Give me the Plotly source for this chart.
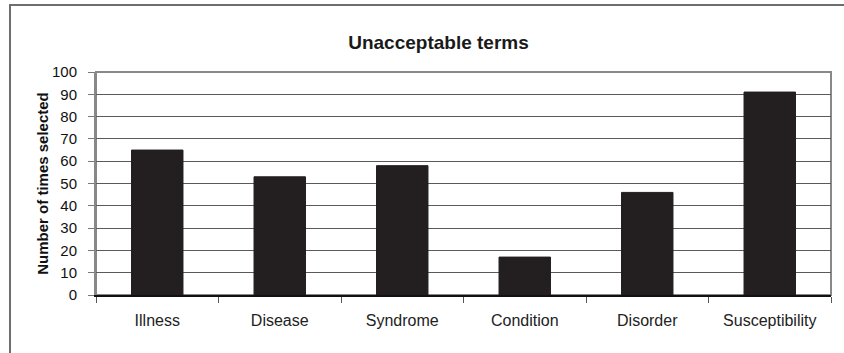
import plotly.graph_objects as go

categories = ["Illness", "Disease", "Syndrome", "Condition", "Disorder", "Susceptibility"]
values = [65, 53, 58, 17, 46, 91]
y_ticks = [0, 10, 20, 30, 40, 50, 60, 70, 80, 90, 100]

W, H = 844, 353
L, R, T, B = 96, 13, 72, 58
pw, ph = W - L - R, H - T - B

fig = go.Figure(go.Bar(
    x=categories, y=values,
    marker=dict(color="#231f20", line=dict(color="#231f20", width=1)),
))

fig.update_layout(
    width=W, height=H,
    margin=dict(l=L, r=R, t=T, b=B, autoexpand=False),
    paper_bgcolor="white", plot_bgcolor="white",
    bargap=0.58,
    showlegend=False,
    font=dict(family="Liberation Sans, Arial, sans-serif", color="#111"),
    title=dict(text="<b>Unacceptable terms</b>", x=438.5 / W, xanchor="center",
               y=1 - 42 / H, yanchor="middle", font=dict(size=19, color="#1a1a1a")),
    xaxis=dict(
        type="category", tickson="boundaries", ticks="outside", ticklen=6,
        tickcolor="#555", tickwidth=1, showgrid=False, automargin=False,
        showline=True, linecolor="#111", linewidth=2,
        tickfont=dict(size=16, color="#222"), ticklabelstandoff=10,
    ),
    yaxis=dict(
        range=[0, 100], tickvals=y_ticks, ticks="outside", ticklen=6,
        tickcolor="#777", showgrid=True, gridcolor="#5a5a5a", gridwidth=1,
        showline=True, linecolor="#888", linewidth=2, zeroline=False,
        automargin=False, ticklabelstandoff=8,
        tickfont=dict(size=15, color="#111"),
        title=dict(text="<b>Number of times selected</b>", font=dict(size=15, color="#111"), standoff=0),
    ),
    shapes=[
        dict(type="rect", xref="paper", yref="paper", x0=0, x1=1, y0=0, y1=1,
             line=dict(color="#888", width=2), layer="below"),
        dict(type="rect", xref="paper", yref="paper",
             x0=(10 - L) / pw, x1=(W + 10 - L) / pw,
             y0=(T + ph - (H + 10)) / ph, y1=(T + ph - 5) / ph,
             line=dict(color="#6e6e6e", width=2)),
    ],
)

fig.write_html("out.html", config={"displayModeBar": False},
               post_script="document.body.style.margin='0';document.body.style.overflow='hidden';")
